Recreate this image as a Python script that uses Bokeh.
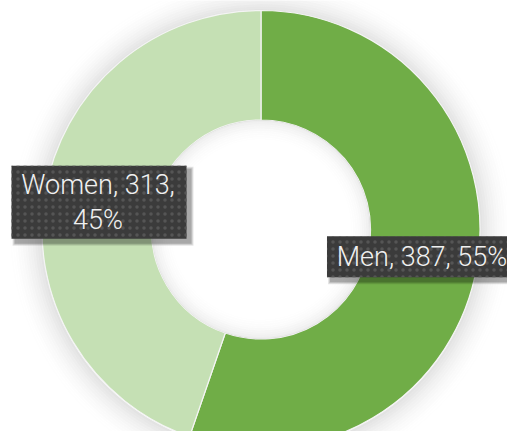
import math
from bokeh.plotting import figure
from bokeh.models import Range1d
from bokeh.core.properties import value
from bokeh.embed import file_html
from bokeh.resources import INLINE

# ---- data ----
categories = ["Men", "Women"]
counts = [387, 313]
colors = ["#70AD47", "#C5E0B4"]
label_texts = ["Men, 387, 55%", "Women, 313,\n45%"]

# ---- layout constants (pixels == data units) ----
W, H = 507, 431
CX, CY = 260.5, 218.0
R_OUT, R_IN = 219.0, 109.5
BOX_W = [192, 175]
BOX_H = [41, 73]

p = figure(width=W, height=H, output_backend="svg", toolbar_location=None,
           x_range=Range1d(0, W), y_range=Range1d(447 - H, 447),
           x_axis_location=None, y_axis_location=None, min_border=0)
p.grid.visible = False
p.outline_line_color = None
p.background_fill_color = "white"
p.border_fill_color = "white"

# outer glow
N = 14
for i in range(N):
    a = 0.11 * (1 - i / N) ** 2
    p.annular_wedge(x=CX, y=CY - 1, inner_radius=R_OUT + i * 2.5, outer_radius=R_OUT + (i + 1) * 2.5,
                    start_angle=0, end_angle=2 * math.pi, fill_color="black", fill_alpha=a, line_color=None)

total = sum(counts)
start = math.pi / 2
mids = []
for cat, v, c in zip(categories, counts, colors):
    sweep = 2 * math.pi * v / total
    end = start
    st = start - sweep
    p.annular_wedge(x=CX, y=CY, inner_radius=R_IN, outer_radius=R_OUT,
                    start_angle=st, end_angle=end, fill_color=c,
                    line_color="#f4f4f4", line_width=1.2)
    mids.append((st + end) / 2)
    start = st

# inner hole shading
M = 10
for i in range(M):
    a = 0.07 * (1 - i / M) ** 2
    p.annular_wedge(x=CX, y=CY, inner_radius=R_IN - (i + 1) * 2.2, outer_radius=R_IN - i * 2.2,
                    start_angle=0, end_angle=2 * math.pi, fill_color="black", fill_alpha=a, line_color=None)

# labels
RM = (R_IN + R_OUT) / 2
for txt, ang, bw, bh in zip(label_texts, mids, BOX_W, BOX_H):
    lx = CX + RM * math.cos(ang)
    ly = CY + RM * math.sin(ang)
    for k, a in enumerate([0.10, 0.12, 0.16]):
        grow = 6 - 2 * k
        p.rect(x=lx + 4, y=ly - 4, width=bw + grow, height=bh + grow,
               fill_color="black", fill_alpha=a, line_color=None)
    p.rect(x=lx, y=ly, width=bw, height=bh, fill_color="#3b3b3b", line_color=None,
           hatch_pattern="dot", hatch_color="#555555", hatch_scale=7, hatch_weight=1.5)
    p.text(x=[lx - 1], y=[ly], text=[txt], text_align="center", text_baseline="middle",
           text_color="#f0f0f0", text_font=value("Roboto Light"), text_font_size="27px",
           text_line_height=1.1)

open("out.html", "w").write(file_html(p, INLINE))
